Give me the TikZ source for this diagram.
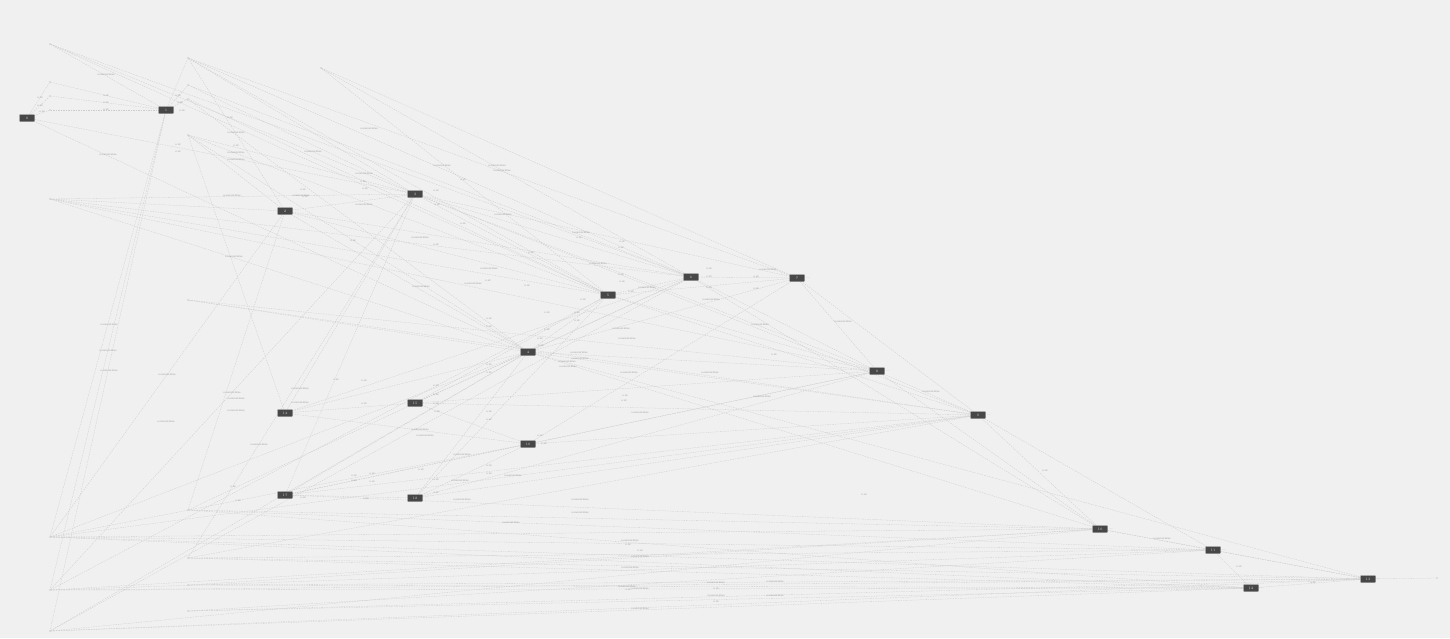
\documentclass[tikz,border=0pt]{standalone}
\begin{document}
\begin{tikzpicture}[x=1pt,y=-1pt,
  box/.style={draw=black!40,fill=black!72,rounded corners=0.6pt,minimum width=15pt,minimum height=7pt,inner sep=0pt,text=black!20,font=\fontsize{3.5}{3.5}\selectfont},
  pt/.style={circle,fill=black!35,inner sep=0pt,minimum size=1.2pt},
  edge/.style={draw=black!20,line width=0.3pt,dash pattern=on 1.5pt off 1pt},
  lbl/.style={text=black!50,inner sep=0pt,font=\fontsize{2.2}{2.5}\selectfont},
  tail/.style={text=black!45,inner sep=0pt,font=\fontsize{2.2}{2.5}\selectfont,anchor=west}]
\fill[black!6] (0,0) rectangle (1450,638);
\useasboundingbox (0,0) rectangle (1450,638);
% points
\foreach \n/\x/\y in {p1/50/44,p2/50/82,p3/50/96,p4/50/110,p5/188/58,p6/188/85,p7/188/99,p8/188/135,p9/50/199,p10/321/68,p11/188/300,p12/50/537,p13/50/590,p14/50/631,p15/188/510,p16/188/558,p17/188/585,p18/188/611,p19/1437/578}
  \node[pt] (\n) at (\x,\y) {};
% box positions
\foreach \n/\x/\y in {n0/27/118,n1/166/110,n2/285/211,n3/415/194,n4/528/352,n5/608/295,n6/691/277,n7/797/278,n8/877/371,n9/978/415,n10/1100/529,n11/1213/550,n12/1251/588,n13/1368/579,n14/285/413,n15/415/403,n16/528/444,n17/285/495,n18/415/498}
  \coordinate (c\n) at (\x,\y);
% edges
\foreach \a/\b in {cn0/p2,cn0/p3,cn0/p4,p1/cn1,p2/cn1,p3/cn1,p4/cn1,cn1/p5,cn1/p6,cn1/p7,p1/cn3,p1/cn6,p1/cn5,p5/cn3,p5/cn6,p5/cn7,p5/cn5,p5/cn2,p10/cn6,p10/cn7,p10/cn5,p6/cn3,p6/cn6,p7/cn5,p7/cn4,p8/cn2,p8/cn3,p8/cn5,p8/cn4,p8/cn14,cn0/cn3,cn0/cn4,p9/cn2,p9/cn3,p9/cn4,p9/cn5,p9/cn8,p9/cn6,p11/cn4,p11/cn8,p11/cn9,cn1/p12,cn1/p13,cn1/p14,cn2/p12,cn2/p15,cn3/p13,cn3/p16,p12/cn10,p12/cn11,p12/cn12,p12/cn13,p12/cn16,p12/cn9,p12/cn4,p13/cn10,p13/cn12,p13/cn13,p13/cn11,p13/cn5,p14/cn12,p14/cn13,p14/cn4,p14/cn10,p14/cn6,p15/cn10,p15/cn11,p15/cn12,p15/cn15,p16/cn12,p16/cn13,p16/cn11,p16/cn9,p17/cn13,p17/cn10,p17/cn12,p18/cn12,p18/cn13,p18/cn11,cn2/cn3,cn2/cn4,cn2/cn5,cn2/cn6,cn3/cn5,cn3/cn6,cn3/cn7,cn3/cn8,cn3/cn9,cn4/cn5,cn4/cn6,cn4/cn7,cn4/cn8,cn4/cn9,cn4/cn10,cn4/cn13,cn5/cn6,cn5/cn7,cn5/cn8,cn5/cn9,cn6/cn7,cn6/cn8,cn6/cn10,cn7/cn8,cn7/cn9,cn8/cn9,cn8/cn10,cn9/cn10,cn9/cn11,cn10/cn11,cn10/cn13,cn11/cn12,cn11/cn13,cn12/cn13,cn13/p19,cn14/cn15,cn14/cn16,cn14/cn4,cn14/cn6,cn15/cn16,cn15/cn4,cn15/cn5,cn15/cn6,cn15/cn8,cn15/cn9,cn16/cn7,cn16/cn9,cn16/cn8,cn17/cn18,cn17/cn16,cn17/cn9,cn17/cn10,cn17/cn4,cn17/cn8,cn18/cn16,cn18/cn4,cn18/cn9,cn18/cn8,cn14/cn3,cn17/cn3,cn18/cn5}
  \draw[edge] (\a) -- (\b);
% boxes
\foreach \n/\t in {n0/0,n1/1,n2/2,n3/3,n4/4,n5/5,n6/6,n7/7,n8/8,n9/9,n10/10,n11/11,n12/12,n13/13,n14/14,n15/15,n16/16,n17/17,n18/18}
  \node[box] (\n) at (c\n) {\t};
% tails
\foreach \n in {n7,n8,n9,n10,n11,n12,n13,n5}
  \node[tail] (t\n) at ([xshift=8.5pt]\n.center) {----};
% long labels
\foreach \x/\y [count=\i] in {106/75,108/155,236/133,236/153,236/160,313/152,369/129,232/196,301/196,364/174,364/205,442/166,497/166,502/171,503/215,420/238,234/257,489/269,421/287,473/284,581/233,598/264,647/288,621/329,627/339,711/300,768/270,760/325,843/322,931/392,762/397,710/373,629/373,640/413,579/353,567/362,568/367,580/359,109/325,108/351,109/371,167/375,166/422,232/393,236/399,236/411,300/389,300/403,259/445,420/430,425/436,462/455,460/481,462/500,513/476,511/523,580/500,580/513,630/541,640/557,630/568,640/589,627/587,640/609,716/583,775/582,716/596,775/596,1162/539}
  \node[lbl] (L\i) at (\x,\y) {0.0000112233};
% short labels
\foreach \x/\y [count=\i] in {40/98,40/106,42/112,106/96,106/103,106/110,178/96,180/103,182/111,230/118,236/146,178/145,178/152,303/190,305/197,363/182,365/189,436/191,437/205,463/180,463/224,353/241,436/245,488/281,527/286,531/253,579/238,622/242,621/248,621/275,622/282,631/292,583/300,577/313,577/321,547/313,547/330,540/339,541/346,489/319,489/327,489/365,489/373,709/269,709/277,709/288,756/277,756/289,774/355,864/495,1045/471,1239/567,1313/583,625/396,624/401,489/412,489/420,436/386,436/395,436/404,437/412,364/381,364/404,336/380,366/499,303/498,238/501,233/487,354/476,354/481,372/474,372/482,436/480,436/493,421/470,489/466,489/474,540/436,544/444,628/545,640/551,628/590,716/589,716/602}
  \node[lbl] (S\i) at (\x,\y) {0.12};
\end{tikzpicture}
\end{document}
